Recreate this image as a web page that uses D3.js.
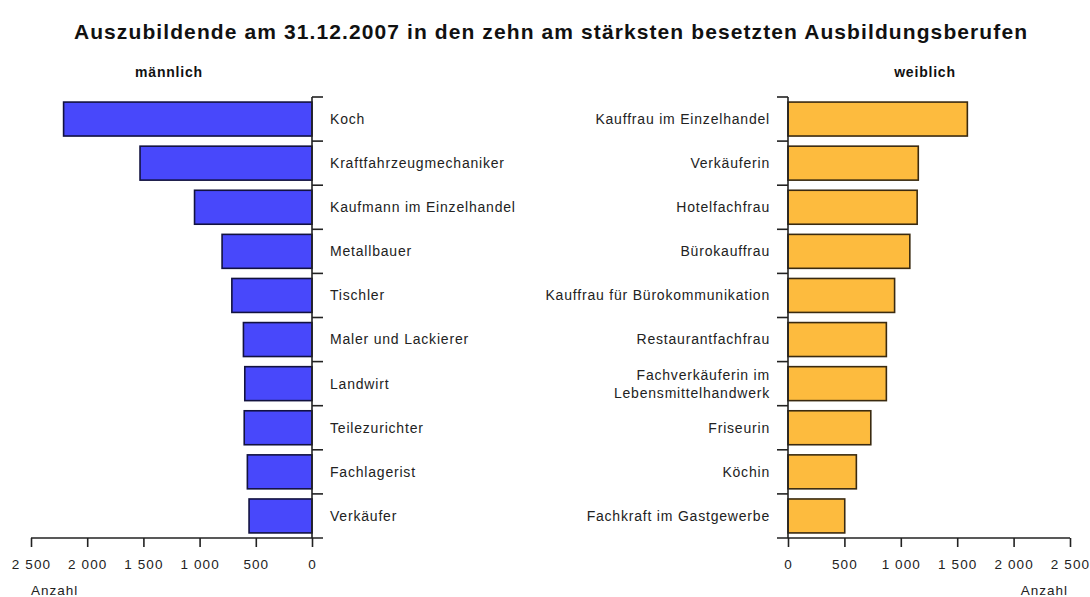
<!DOCTYPE html>
<html>
<head>
<meta charset="utf-8">
<script src="https://cdn.jsdelivr.net/npm/d3@7"></script>
<style>
  body { margin: 0; background: #fff; }
  svg { display: block; font-family: "Liberation Sans", Arial, sans-serif; }
  .title { font-weight: bold; font-size: 21px; letter-spacing: 1.1px; fill: #111; }
  .side { font-weight: bold; font-size: 14px; letter-spacing: 0.8px; fill: #111; }
  .cat { font-size: 14px; letter-spacing: 0.8px; fill: #222; }
  .tick text { font-size: 13.5px; letter-spacing: 1.1px; fill: #222; }
  .unit { font-size: 13.5px; letter-spacing: 1px; fill: #222; }
</style>
</head>
<body>
<div id="chart"></div>
<script>
const WIDTH = 1090;
const HEIGHT = 597;

// Data (Anzahl Auszubildende, 31.12.2007)
const maleJobs = [
  "Koch", "Kraftfahrzeugmechaniker", "Kaufmann im Einzelhandel", "Metallbauer",
  "Tischler", "Maler und Lackierer", "Landwirt", "Teilezurichter",
  "Fachlagerist", "Verkäufer"
];
const maleValues = [2210, 1530, 1045, 800, 713, 610, 598, 603, 575, 560];

const femaleJobs = [
  "Kauffrau im Einzelhandel", "Verkäuferin", "Hotelfachfrau", "Bürokauffrau",
  "Kauffrau für Bürokommunikation", "Restaurantfachfrau",
  "Fachverkäuferin im\nLebensmittelhandwerk", "Friseurin", "Köchin",
  "Fachkraft im Gastgewerbe"
];
const femaleValues = [1590, 1155, 1145, 1080, 945, 872, 872, 734, 606, 503];

const xTicks = [0, 500, 1000, 1500, 2000, 2500];

const locale = d3.formatLocale({ decimal: ",", thousands: " ", grouping: [3], currency: ["", " €"] });
const fmt = locale.format(",d");

const svg = d3.select("#chart")
  .append("svg")
  .attr("width", WIDTH)
  .attr("height", HEIGHT);

svg.append("text")
  .attr("class", "title")
  .attr("x", 551)
  .attr("y", 39)
  .attr("text-anchor", "middle")
  .text("Auszubildende am 31.12.2007 in den zehn am stärksten besetzten Ausbildungsberufen");

const TOP = 97;
const BOTTOM = 538;

function drawSide(opts) {
  const { jobs, values, zero, far, dir, fill, stroke, sideLabel, sideX } = opts;

  const x = d3.scaleLinear().domain([0, 2500]).range([zero, far]);
  const y = d3.scaleBand()
    .domain(jobs)
    .range([TOP, BOTTOM])
    .paddingInner(0.23)
    .paddingOuter(0.115);

  const g = svg.append("g");

  // bars
  g.selectAll("rect.bar")
    .data(jobs)
    .join("rect")
    .attr("class", "bar")
    .attr("x", (d, i) => Math.min(x(0), x(values[i])))
    .attr("y", (d) => y(d))
    .attr("width", (d, i) => Math.abs(x(values[i]) - x(0)))
    .attr("height", y.bandwidth())
    .attr("fill", fill)
    .attr("stroke", stroke)
    .attr("stroke-width", 1.6);

  // category axis line and boundary ticks
  const outer = y.step() * y.paddingOuter();
  const boundaries = jobs.map((d) => y(d) - outer);

  g.append("line")
    .attr("x1", zero).attr("x2", zero)
    .attr("y1", TOP).attr("y2", BOTTOM)
    .attr("stroke", "#222").attr("stroke-width", 1.6);

  g.selectAll("line.cat-tick")
    .data(boundaries)
    .join("line")
    .attr("class", "cat-tick")
    .attr("x1", zero).attr("x2", zero - dir * 11)
    .attr("y1", (d) => d).attr("y2", (d) => d)
    .attr("stroke", "#222").attr("stroke-width", 1.6);

  // category labels
  const labels = g.selectAll("text.cat")
    .data(jobs)
    .join("text")
    .attr("class", "cat")
    .attr("x", zero - dir * 18)
    .attr("text-anchor", dir > 0 ? "end" : "start");

  labels.each(function (d) {
    const lines = d.split("\n");
    const cy = y(d) + y.bandwidth() / 2;
    const lh = 18;
    const t = d3.select(this);
    lines.forEach((line, k) => {
      t.append("tspan")
        .attr("x", zero - dir * 18)
        .attr("y", cy + (k - (lines.length - 1) / 2) * lh)
        .attr("dy", "0.35em")
        .text(line);
    });
  });

  // value axis
  const axis = g.append("g")
    .attr("transform", `translate(0,${BOTTOM})`)
    .call(d3.axisBottom(x).tickValues(xTicks).tickFormat(fmt).tickSize(9).tickSizeOuter(0));
  axis.select(".domain").remove();
  axis.selectAll(".tick line").attr("stroke", "#222").attr("stroke-width", 1.6);
  axis.selectAll(".tick text").attr("y", 21).attr("font-family", null).attr("font-size", null);

  g.append("line")
    .attr("x1", far).attr("x2", zero - dir * 11)
    .attr("y1", BOTTOM).attr("y2", BOTTOM)
    .attr("stroke", "#222").attr("stroke-width", 1.6);

  g.append("text")
    .attr("class", "unit")
    .attr("x", dir > 0 ? far - 2 : far)
    .attr("y", 595)
    .attr("text-anchor", dir > 0 ? "end" : "start")
    .text("Anzahl");

  svg.append("text")
    .attr("class", "side")
    .attr("x", sideX)
    .attr("y", 77)
    .attr("text-anchor", "middle")
    .text(sideLabel);
}

drawSide({
  jobs: maleJobs, values: maleValues,
  zero: 312, far: 31, dir: -1,
  fill: "#4848fb", stroke: "#121240",
  sideLabel: "männlich", sideX: 169
});

drawSide({
  jobs: femaleJobs, values: femaleValues,
  zero: 788, far: 1070, dir: 1,
  fill: "#fdbb3e", stroke: "#3a2a10",
  sideLabel: "weiblich", sideX: 925
});
</script>
</body>
</html>
